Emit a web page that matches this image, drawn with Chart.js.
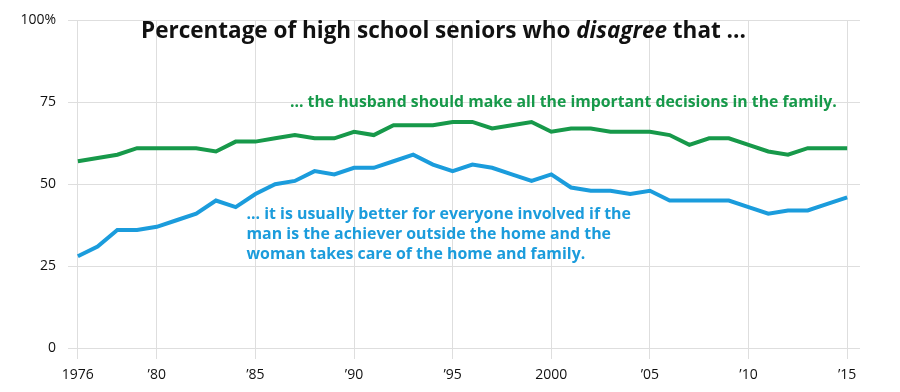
<!DOCTYPE html>
<html>
<head>
<meta charset="utf-8">
<script src="https://cdn.jsdelivr.net/npm/chart.js"></script>
<style>
  html, body { margin: 0; padding: 0; background: #fff; }
  #wrap { width: 900px; height: 392px; position: relative; }
</style>
</head>
<body>
<div id="wrap"><canvas id="seniors-chart"></canvas></div>
<script>
/* ==========================
   Data
========================== */
const years = [
  1976, 1977, 1978, 1979, 1980, 1981, 1982, 1983, 1984, 1985,
  1986, 1987, 1988, 1989, 1990, 1991, 1992, 1993, 1994, 1995,
  1996, 1997, 1998, 1999, 2000, 2001, 2002, 2003, 2004, 2005,
  2006, 2007, 2008, 2009, 2010, 2011, 2012, 2013, 2014, 2015
];

// ... the husband should make all the important decisions in the family.
const husbandDecides = [
  57, 58, 59, 61, 61, 61, 61, 60, 63, 63,
  64, 65, 64, 64, 66, 65, 68, 68, 68, 69,
  69, 67, 68, 69, 66, 67, 67, 66, 66, 66,
  65, 62, 64, 64, 62, 60, 59, 61, 61, 61
];

// ... man is the achiever outside the home, woman takes care of home and family.
const manAchiever = [
  28, 31, 36, 36, 37, 39, 41, 45, 43, 47,
  50, 51, 54, 53, 55, 55, 57, 59, 56, 54,
  56, 55, 53, 51, 53, 49, 48, 48, 47, 48,
  45, 45, 45, 45, 43, 41, 42, 42, 44, 46
];

const xTickYears = [1976, 1980, 1985, 1990, 1995, 2000, 2005, 2010, 2015];
const xTickLabels = ['1976', '\u201980', '\u201985', '\u201990', '\u201995', '2000', '\u201905', '\u201910', '\u201915'];
const yTickValues = [0, 25, 50, 75, 100];
const yTickLabels = ['0', '25', '50', '75', '100%'];

const titleText = ['Percentage of high school seniors who ', 'disagree', ' that ...'];
const greenNote = ['... the husband should make all the important decisions in the family.'];
const blueNote = [
  '... it is usually better for everyone involved if the',
  'man is the achiever outside the home and the',
  'woman takes care of the home and family.'
];

const GREEN = '#17994a';
const BLUE = '#1b9cdc';
const GRID = '#dedede';
const FONT = "'Open Sans', sans-serif";

/* ==========================
   Text overlay plugin
========================== */
const textOverlay = {
  id: 'textOverlay',
  afterDatasetsDraw(chart) {
    const ctx = chart.ctx;
    const xs = chart.scales.x;
    const ys = chart.scales.y;
    ctx.save();
    ctx.textBaseline = 'middle';
    ctx.textAlign = 'left';

    // title, with the italic word
    let x = 141;
    const ty = 32;
    ctx.fillStyle = '#111';
    titleText.forEach((part, i) => {
      ctx.font = (i === 1 ? 'italic ' : '') + 'bold 22.5px ' + FONT;
      ctx.fillText(part, x, ty);
      x += ctx.measureText(part).width;
    });

    // green note
    ctx.font = 'bold 15.8px ' + FONT;
    ctx.fillStyle = GREEN;
    ctx.fillText(greenNote[0], xs.getPixelForValue(1986.75), ys.getPixelForValue(74.8));

    // blue note
    ctx.font = 'bold 15.9px ' + FONT;
    ctx.fillStyle = BLUE;
    const bx = xs.getPixelForValue(1984.55);
    const bTop = ys.getPixelForValue(40.9);
    blueNote.forEach((line, i) => {
      ctx.fillText(line, bx, bTop + i * 20);
    });
    ctx.restore();
  }
};

/* ==========================
   Chart
========================== */
const ctx = document.getElementById('seniors-chart');
const seniorsChart = new Chart(ctx.getContext('2d'), {
  type: 'line',
  data: {
    labels: years,
    datasets: [
      {
        label: 'Husband decides',
        data: years.map((y, i) => ({ x: y, y: husbandDecides[i] })),
        borderColor: GREEN,
        borderWidth: 4,
        pointRadius: 0,
        tension: 0,
        fill: false,
      },
      {
        label: 'Man achiever',
        data: years.map((y, i) => ({ x: y, y: manAchiever[i] })),
        borderColor: BLUE,
        borderWidth: 4,
        pointRadius: 0,
        tension: 0,
        fill: false,
      },
    ],
  },
  options: {
    responsive: true,
    maintainAspectRatio: false,
    animation: false,
    layout: { padding: { top: 16, right: 40, left: 0, bottom: 0 } },
    plugins: {
      legend: { display: false },
      tooltip: { enabled: false },
      title: { display: false },
    },
    scales: {
      x: {
        type: 'linear',
        min: 1975.5,
        max: 2015.65,
        afterBuildTicks: (scale) => {
          scale.ticks = xTickYears.map(v => ({ value: v }));
        },
        afterFit: (scale) => { scale.height = 44; },
        ticks: {
          color: '#111',
          font: { family: FONT, size: 14 },
          padding: 8,
          maxRotation: 0,
          autoSkip: false,
          callback: (value) => {
            const i = xTickYears.indexOf(value);
            return i >= 0 ? xTickLabels[i] : '';
          },
        },
        grid: {
          color: GRID,
          lineWidth: 1,
          drawTicks: true,
          tickLength: 11,
          tickColor: GRID,
        },
        border: { display: false },
      },
      y: {
        min: 0,
        max: 100,
        afterBuildTicks: (scale) => {
          scale.ticks = yTickValues.map(v => ({ value: v }));
        },
        afterFit: (scale) => { scale.width = 68; },
        ticks: {
          color: '#111',
          font: { family: FONT, size: 14 },
          padding: 12,
          callback: (value) => {
            const i = yTickValues.indexOf(value);
            return i >= 0 ? yTickLabels[i] : '';
          },
        },
        grid: {
          color: GRID,
          lineWidth: 1,
          drawTicks: false,
        },
        border: { display: false },
      },
    },
  },
  plugins: [textOverlay],
});
</script>
</body>
</html>
